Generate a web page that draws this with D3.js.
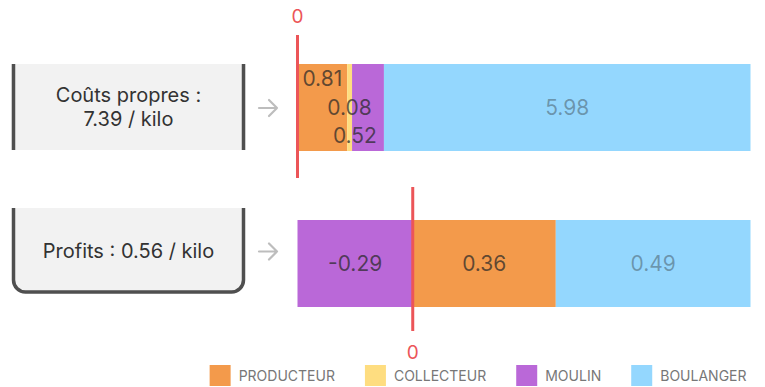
<!DOCTYPE html>
<html>
<head>
<meta charset="utf-8">
<script src="https://cdn.jsdelivr.net/npm/d3@7"></script>
<style>
  html, body { margin: 0; padding: 0; background: #fff; }
  svg { display: block; font-family: Inter, "Noto Sans", sans-serif; }
</style>
</head>
<body>
<svg id="chart" width="765" height="387"></svg>
<script>
// Cost breakdown per kilo along the chain, one row per measure
const rows = ["Coûts propres", "Profits"];
const totals = [7.39, 0.56];
const series = ["PRODUCTEUR", "COLLECTEUR", "MOULIN", "BOULANGER"];
const coutsPropres = [0.81, 0.08, 0.52, 5.98];
const profits = [0.36, 0, -0.29, 0.49];
const colors = ["#F39A4B", "#FEDD80", "#BA68D8", "#94D7FE"];
const labelInk = ["rgba(40,40,40,0.72)", "rgba(40,40,40,0.72)", "rgba(40,40,40,0.72)", "rgba(40,40,40,0.38)"];

const values = [coutsPropres, profits];
const svg = d3.select("#chart");

const barX0 = 297.5, barX1 = 750.5;
const yBand = d3.scaleOrdinal().domain(rows).range([64, 220]);
const barH = 87;
const boxes = [{ top: 64, h: 86 }, { top: 208, h: 86 }];
const zeroLines = [{ y0: 35, y1: 178, label: "above" }, { y0: 187, y1: 331, label: "below" }];

rows.forEach((row, ri) => {
  const vals = values[ri];
  // stack positives to the right of zero, negatives to the left
  let pos = 0, neg = 0;
  const segs = vals.map((v, i) => {
    let a, b;
    if (v >= 0) { a = pos; b = pos + v; pos = b; }
    else { b = neg; a = neg + v; neg = a; }
    return { v, i, a, b };
  }).filter(d => d.v !== 0);

  const x = d3.scaleLinear().domain([neg, pos]).range([barX0, barX1]);
  const top = yBand(row);
  const g = svg.append("g");

  g.selectAll("rect").data(segs).join("rect")
    .attr("x", d => x(d.a))
    .attr("y", top)
    .attr("width", d => x(d.b) - x(d.a))
    .attr("height", barH)
    .attr("fill", d => colors[d.i]);

  // value labels
  const cy = top + barH / 2;
  const labels = g.selectAll("text.val").data(segs).join("text")
    .attr("class", "val")
    .attr("font-size", 21)
    .attr("text-anchor", "middle")
    .attr("dy", "0.36em")
    .attr("fill", d => labelInk[d.i])
    .text(d => d.v.toFixed(2));

  const widths = labels.nodes().map(n => n.getComputedTextLength());
  segs.forEach((d, k) => {
    d.w = widths[k];
    d.cx = (x(d.a) + x(d.b)) / 2;
    d.narrow = (x(d.b) - x(d.a)) < d.w + 16;
    d.cy = cy;
  });
  // crowded runs of narrow segments get their labels spread over rows
  const groups = [];
  let run = [];
  segs.forEach(d => {
    if (d.narrow) run.push(d);
    else { if (run.length > 1) groups.push(run); run = []; }
  });
  if (run.length > 1) groups.push(run);
  groups.forEach(gr => {
    const end = x(gr[gr.length - 1].b);
    gr.forEach((d, k) => {
      d.cy = cy + (k - (gr.length - 1) / 2) * 27.5 - (k === 0 ? 1.5 : 0);
      d.cx = Math.min(d.cx, end - 7 - d.w / 2);
    });
  });
  labels.attr("x", d => d.cx).attr("y", d => d.cy);

  // zero reference
  const zl = zeroLines[ri];
  g.append("line")
    .attr("x1", x(0)).attr("x2", x(0))
    .attr("y1", zl.y0).attr("y2", zl.y1)
    .attr("stroke", "#EC5558").attr("stroke-width", 3);
  g.append("text")
    .attr("x", x(0))
    .attr("y", zl.label === "above" ? zl.y0 - 12 : zl.y1 + 28)
    .attr("text-anchor", "middle")
    .attr("font-size", 19)
    .attr("fill", "#EC5558")
    .text("0");

  // summary box on the left
  const bx = boxes[ri];
  const bl = 11.5, br = 245.5;
  if (ri === 0) {
    g.append("rect").attr("x", bl).attr("y", bx.top).attr("width", br - bl).attr("height", bx.h).attr("fill", "#F2F2F2");
    [bl + 2, br - 2].forEach(xx => g.append("line")
      .attr("x1", xx).attr("x2", xx).attr("y1", bx.top).attr("y2", bx.top + bx.h)
      .attr("stroke", "#4F4F4F").attr("stroke-width", 3.5));
    const t = g.append("text").attr("x", (bl + br) / 2).attr("text-anchor", "middle")
      .attr("font-size", 20).attr("fill", "#333");
    t.append("tspan").attr("x", (bl + br) / 2).attr("y", bx.top + bx.h / 2 - 12).attr("dy", "0.36em").text(row + " :");
    t.append("tspan").attr("x", (bl + br) / 2).attr("y", bx.top + bx.h / 2 + 12).attr("dy", "0.36em").text(totals[ri] + " / kilo");
  } else {
    const r = 12, l = bl + 2, rr = br - 2, t0 = bx.top, b = bx.top + bx.h - 2;
    const p = d3.path();
    p.moveTo(l, t0); p.lineTo(l, b - r); p.arcTo(l, b, l + r, b, r);
    p.lineTo(rr - r, b); p.arcTo(rr, b, rr, b - r, r); p.lineTo(rr, t0);
    g.append("path").attr("d", p.toString() + "Z").attr("fill", "#F2F2F2");
    g.append("path").attr("d", p.toString()).attr("fill", "none")
      .attr("stroke", "#4F4F4F").attr("stroke-width", 3.5);
    g.append("text").attr("x", (bl + br) / 2).attr("y", bx.top + bx.h / 2).attr("dy", "0.36em")
      .attr("text-anchor", "middle").attr("font-size", 20).attr("fill", "#333")
      .text(row + " : " + totals[ri] + " / kilo");
  }

  // arrow toward the bar
  const ay = ri === 0 ? bx.top + bx.h / 2 + 1 : bx.top + bx.h / 2 + 0.5;
  g.append("path")
    .attr("d", `M259,${ay}H277M269,${ay - 8}L277,${ay}L269,${ay + 8}`)
    .attr("fill", "none").attr("stroke", "#BDBDBD").attr("stroke-width", 2.2)
    .attr("stroke-linecap", "round").attr("stroke-linejoin", "round");
});

// legend, right-aligned under the bars
const legend = svg.append("g");
const items = legend.selectAll("g").data(series).join("g");
items.append("rect").attr("width", 21).attr("height", 21).attr("y", 365).attr("fill", (d, i) => colors[i]);
items.append("text").attr("x", 29).attr("y", 375.5).attr("dy", "0.36em")
  .attr("font-size", 14).attr("fill", "#777").text(d => d);
const tw = items.select("text").nodes().map(n => n.getComputedTextLength());
let cursor = 746.5;
const xs = [];
for (let i = series.length - 1; i >= 0; i--) {
  const start = cursor - tw[i] - 29;
  xs[i] = start;
  cursor = start - 30;
}
items.attr("transform", (d, i) => `translate(${xs[i]},0)`);
</script>
</body>
</html>
